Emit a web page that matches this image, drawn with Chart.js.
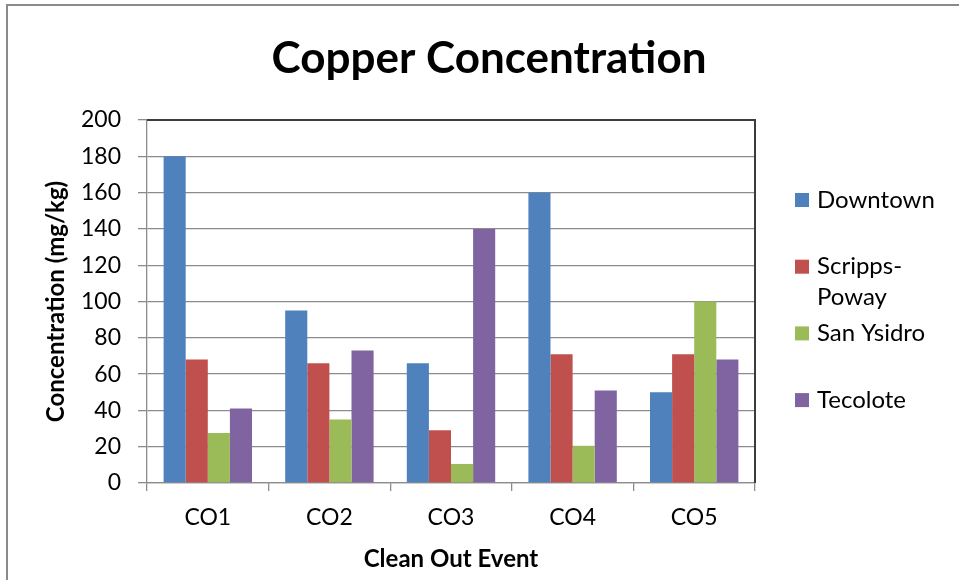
<!DOCTYPE html>
<html>
<head>
<meta charset="utf-8">
<script src="https://cdn.jsdelivr.net/npm/chart.js@4.4.0/dist/chart.umd.min.js"></script>
<style>
  html, body { margin: 0; padding: 0; background: #fff; }
  #wrap { width: 959px; height: 580px; }
</style>
</head>
<body>
<div id="wrap"><canvas id="c" width="959" height="580"></canvas></div>
<script>
// Copper concentration per clean-out event, mg/kg
const categories = ['CO1', 'CO2', 'CO3', 'CO4', 'CO5'];
const seriesNames = ['Downtown', 'Scripps-Poway', 'San Ysidro', 'Tecolote'];
const downtown = [180, 95, 66, 160, 50];
const scrippsPoway = [68, 66, 29, 71, 71];
const sanYsidro = [27.5, 35, 10.5, 20.5, 100];
const tecolote = [41, 73, 140, 51, 68];
const yTicks = [0, 20, 40, 60, 80, 100, 120, 140, 160, 180, 200];
const seriesColors = ['#4F81BD', '#C0504D', '#9BBB59', '#8064A2'];
const chartTitle = 'Copper Concentration';
const xTitle = 'Clean Out Event';
const yTitle = 'Concentration (mg/kg)';

const FONT = 'Lato, "Open Sans", sans-serif';
const seriesValues = [downtown, scrippsPoway, sanYsidro, tecolote];

Chart.defaults.color = '#000';
Chart.defaults.font.family = FONT;

// Split a legend name after its hyphen when it is too wide for the legend column
function wrapName(ctx, text, maxWidth) {
  if (ctx.measureText(text).width <= maxWidth) return [text];
  const i = text.indexOf('-');
  if (i < 0) return [text];
  return [text.slice(0, i + 1), text.slice(i + 1)];
}

const decor = {
  id: 'decor',
  beforeDraw(chart) {
    const ctx = chart.ctx;
    ctx.save();
    ctx.fillStyle = '#fff';
    ctx.fillRect(0, 0, chart.width, chart.height);
    ctx.restore();
  },
  afterDraw(chart) {
    const { ctx, chartArea: a } = chart;
    ctx.save();

    // plot-area frame on the top and right
    ctx.strokeStyle = '#3c3c3c';
    ctx.lineWidth = 2;
    ctx.beginPath();
    ctx.moveTo(a.left, a.top);
    ctx.lineTo(a.right, a.top);
    ctx.lineTo(a.right, a.bottom);
    ctx.stroke();

    // outer chart frame
    ctx.strokeStyle = '#8a8a8a';
    ctx.lineWidth = 2;
    ctx.beginPath();
    ctx.moveTo(7, chart.height);
    ctx.lineTo(7, 5);
    ctx.lineTo(chart.width, 5);
    ctx.stroke();

    // title
    ctx.fillStyle = '#000';
    ctx.font = 'bold 44px ' + FONT;
    ctx.textAlign = 'center';
    ctx.textBaseline = 'alphabetic';
    ctx.fillText(chartTitle, 489, 73);

    // legend
    ctx.font = '24px ' + FONT;
    ctx.textAlign = 'left';
    ctx.textBaseline = 'middle';
    chart.data.datasets.forEach((ds, i) => {
      const y0 = 200 + i * 66.7;
      ctx.fillStyle = ds.backgroundColor;
      ctx.fillRect(795, y0 - 7, 14, 14);
      ctx.fillStyle = '#000';
      wrapName(ctx, ds.label, 130).forEach((line, k) => {
        ctx.fillText(line, 817, y0 + k * 31);
      });
    });
    ctx.restore();
  }
};

new Chart(document.getElementById('c'), {
  type: 'bar',
  data: {
    labels: categories,
    datasets: seriesNames.map((name, i) => ({
      label: name,
      data: seriesValues[i],
      backgroundColor: seriesColors[i],
      borderWidth: 0,
      categoryPercentage: 0.727,
      barPercentage: 1.0
    }))
  },
  options: {
    responsive: false,
    animation: false,
    layout: { padding: { left: 0, right: 204, top: 120, bottom: 0 } },
    plugins: {
      legend: { display: false },
      title: { display: false },
      tooltip: { enabled: false }
    },
    scales: {
      x: {
        offset: true,
        grid: {
          offset: true,
          drawOnChartArea: false,
          drawTicks: true,
          tickLength: 8,
          color: '#8c8c8c',
          lineWidth: 1.3
        },
        border: { color: '#8c8c8c', width: 1.3 },
        ticks: { font: { size: 23 }, padding: 13, color: '#000' },
        title: {
          display: true,
          text: xTitle,
          font: { size: 24, weight: 'bold' },
          color: '#000',
          padding: { top: 0, bottom: 6.6 }
        },
        afterFit(scale) { scale.height = 97; }
      },
      y: {
        min: 0,
        max: 200,
        afterBuildTicks(scale) { scale.ticks = yTicks.map(v => ({ value: v })); },
        grid: {
          color: '#8c8c8c',
          lineWidth: 1.3,
          tickLength: 9
        },
        border: { color: '#8c8c8c', width: 1.3 },
        ticks: { font: { size: 23 }, padding: 17, color: '#000' },
        title: {
          display: true,
          text: yTitle,
          font: { size: 24, weight: 'bold' },
          color: '#000',
          padding: { top: 42, bottom: 0 }
        },
        afterFit(scale) { scale.width = 147; }
      }
    }
  },
  plugins: [decor]
});
</script>
</body>
</html>
